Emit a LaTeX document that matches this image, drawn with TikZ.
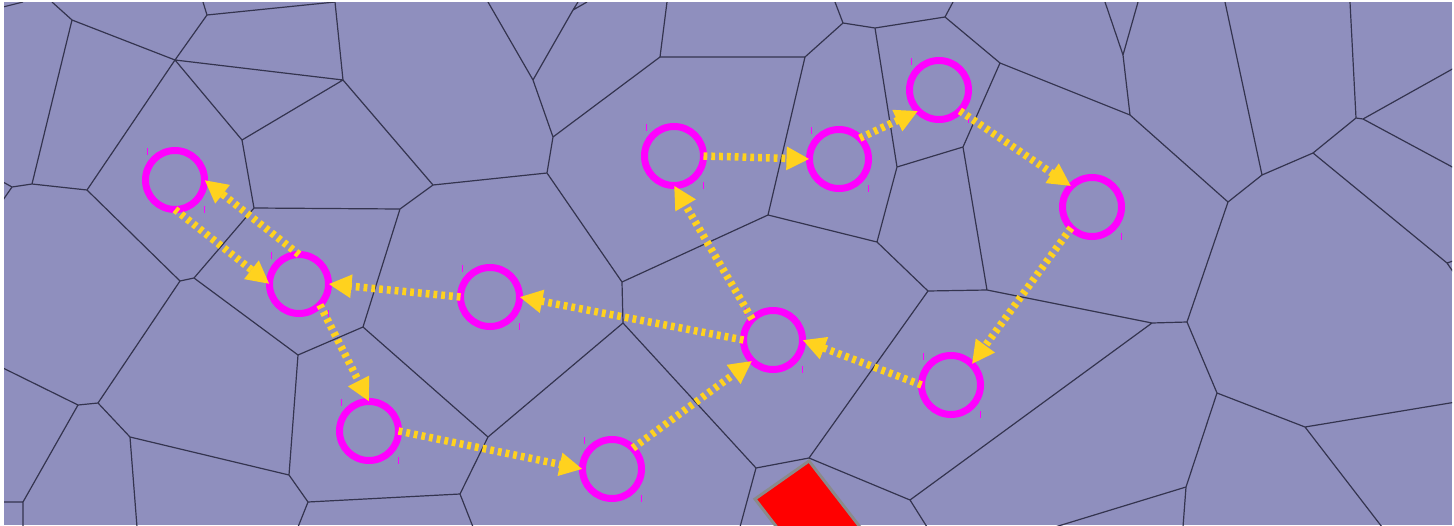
\documentclass[tikz,border=0pt]{standalone}
\usetikzlibrary{arrows.meta}
\definecolor{cellfill}{HTML}{8F8FBE}
\definecolor{celledge}{HTML}{34344F}
\definecolor{ringcol}{HTML}{FF00FF}
\definecolor{arrowcol}{HTML}{FFD21E}
\definecolor{rectedge}{HTML}{8A8A8A}
\tikzset{
  vedge/.style={draw=celledge, line width=1.2pt, line join=round},
  ring/.style={circle, draw=ringcol, line width=7pt, minimum size=59pt, inner sep=0pt, outer sep=0pt},
  tick/.style={draw=ringcol, line width=1pt},
  flow/.style={draw=arrowcol, line width=7.5pt, dash pattern=on 3.8pt off 4pt,
    -{Triangle[length=23pt,width=22pt,fill=arrowcol]}},
}
\begin{document}
\begin{tikzpicture}[x=1pt,y=-1pt]
\useasboundingbox (0,0) rectangle (1454,525);
\fill[white] (0,0) rectangle (1454,525);
\fill[cellfill] (4,2) rectangle (1452,525);
\begin{scope}
\clip (4,2) rectangle (1452,525);
\draw[vedge]
 (3,7)--(23,2)
 (52,2)--(72,20) (72,20)--(175,60) (72,20)--(32,184)
 (175,60)--(207,15) (207,15)--(203,2) (207,15)--(335,2) (335,2)--(343,80)
 (175,60)--(343,80) (343,80)--(242,140) (175,60)--(242,140) (242,140)--(254,208)
 (254,208)--(400,209) (343,80)--(433,185) (433,185)--(400,209) (433,185)--(547,173)
 (400,209)--(363,327) (175,60)--(87,190) (87,190)--(32,184) (32,184)--(12,187)
 (12,187)--(3,200) (12,187)--(3,182)
 (87,190)--(180,281) (254,208)--(194,278) (180,281)--(194,278) (180,281)--(98,403)
 (98,403)--(78,405) (78,405)--(3,368) (78,405)--(23,502) (23,502)--(3,502) (23,502)--(23,527)
 (98,403)--(130,437) (130,437)--(289,475) (130,437)--(137,527)
 (194,278)--(298,355) (298,355)--(289,475) (298,355)--(363,327) (363,327)--(488,437)
 (289,475)--(308,502) (308,502)--(460,494) (308,502)--(298,527) (460,494)--(473,527)
 (460,494)--(488,437) (488,437)--(623,323)
 (488,2)--(533,80) (533,80)--(573,10) (573,10)--(578,2) (573,10)--(587,2)
 (533,80)--(553,137) (553,137)--(660,57) (660,57)--(667,2) (660,57)--(805,57)
 (805,57)--(843,23) (843,23)--(835,2) (843,23)--(875,28) (875,28)--(945,17)
 (945,17)--(953,2) (945,17)--(1000,63) (875,28)--(897,167) (897,167)--(963,147)
 (963,147)--(1000,63) (963,147)--(987,290) (897,167)--(877,242) (877,242)--(768,215)
 (877,242)--(928,291) (768,215)--(805,57) (768,215)--(622,282)
 (553,137)--(547,173) (547,173)--(622,282) (622,282)--(623,323)
 (623,323)--(756,468) (756,468)--(809,458) (756,468)--(740,527)
 (809,458)--(928,291) (809,458)--(910,500) (910,500)--(1152,323) (910,500)--(927,527)
 (928,291)--(987,290) (987,290)--(1152,323) (1152,323)--(1187,322)
 (1187,322)--(1228,202) (1187,322)--(1217,393) (1217,393)--(1305,427)
 (1305,427)--(1456,402) (1305,427)--(1382,527) (1217,393)--(1186,487)
 (1186,487)--(1055,527) (1186,487)--(1183,527)
 (1105,2)--(1123,55) (1138,2)--(1123,55) (1123,55)--(1130,115) (1000,63)--(1130,115)
 (1130,115)--(1228,202) (1228,202)--(1262,175) (1262,175)--(1225,2)
 (1262,175)--(1313,153) (1313,153)--(1356,118) (1356,118)--(1350,2)
 (1356,118)--(1363,119) (1363,119)--(1456,67) (1363,119)--(1456,169)
 (1313,153)--(1447,263) (1447,263)--(1456,260) (1447,263)--(1456,276);
\draw[fill=red, draw=rectedge, line width=3pt, line join=miter]
 (809,461) -- (755,499) -- (816,578) -- (870,540) -- cycle;
\end{scope}
% rings
\foreach \n/\x/\y in {c1/175/180, c2/299/284, c3/490/297, c4/369/431, c5/612/469,
  c6/773/340, c7/674/156, c8/839/159, c9/939/90, c10/1092/207, c11/951/385}{
  \node[ring] (\n) at (\x,\y) {};
  \draw[tick] (\x-28,\y-32) -- (\x-28,\y-25);
  \draw[tick] (\x+29,\y+26) -- (\x+29,\y+33);
}
% arrows
\draw[flow] (c1.south) -- (c2.west);
\draw[flow] (c2.north) -- (c1.east);
\draw[flow] (c3.west) -- (c2.east);
\draw[flow] (c2.south east) -- (c4.north);
\draw[flow] (c4.east) -- (c5.west);
\draw[flow] (c5.north east) -- (c6.south west);
\draw[flow] (c11.west) -- (c6.east);
\draw[flow] (c6.west) -- (c3.east);
\draw[flow] (c6.north west) -- (c7.south);
\draw[flow] (c7.east) -- (c8.west);
\draw[flow] (c8.north east) -- (c9.south west);
\draw[flow] (c9.south east) -- (c10.north west);
\draw[flow] (c10.south west) -- (c11.north east);
\end{tikzpicture}
\end{document}
